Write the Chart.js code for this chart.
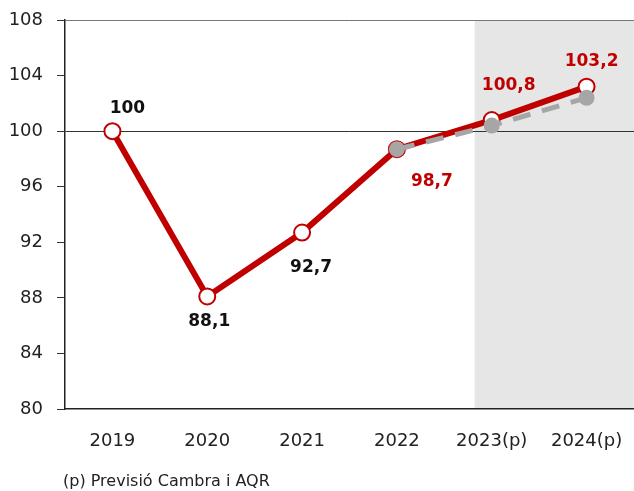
<!DOCTYPE html>
<html>
<head>
<meta charset="utf-8">
<script src="https://cdn.jsdelivr.net/npm/chart.js@4"></script>
<style>
  html, body { margin: 0; padding: 0; background: #fff; }
  #wrap { position: relative; width: 634px; height: 491px; }
  #note { position: absolute; left: 63px; top: 471px; font: 16px "DejaVu Sans", sans-serif; color: #222; }
</style>
</head>
<body>
<div id="wrap">
  <canvas id="chart" width="634" height="491"></canvas>
  <div id="note">(p) Previsió Cambra i AQR</div>
</div>
<script>
// Dades
const years = ['2019', '2020', '2021', '2022', '2023(p)', '2024(p)'];
const indexValues = [100, 88.1, 92.7, 98.7, 100.8, 103.2];
const previousForecast = [null, null, null, 98.7, 100.4, 102.4];
const yTicks = [80, 84, 88, 92, 96, 100, 104, 108];

// Estil de les etiquetes (dx, dy respecte al punt, color)
const labelStyle = [
    { dx: 15, dy: -23, color: '#111' },
    { dx: 2, dy: 25, color: '#111' },
    { dx: 9, dy: 35, color: '#111' },
    { dx: 35, dy: 32, color: '#c00000' },
    { dx: 17, dy: -34, color: '#c00000' },
    { dx: 5, dy: -25, color: '#c00000' }
];

const RED = '#c00000';
const GREY = '#a6a6a6';
const FONT = '"DejaVu Sans", sans-serif';

// zona de previsió ombrejada
const shadePlugin = {
    id: 'shade',
    beforeDraw(chart) {
        const { ctx, chartArea, scales } = chart;
        const x0 = scales.x.getPixelForValue(3) + (scales.x.getPixelForValue(4) - scales.x.getPixelForValue(3)) * 0.82;
        ctx.save();
        ctx.fillStyle = '#e6e6e6';
        ctx.fillRect(x0, chartArea.top, chartArea.right - x0, chartArea.bottom - chartArea.top);
        ctx.restore();
    }
};

// etiquetes de valors
const labelPlugin = {
    id: 'valueLabels',
    afterDatasetsDraw(chart) {
        const { ctx } = chart;
        const idx = chart.data.datasets.findIndex(d => d.label === 'Índex');
        const meta = chart.getDatasetMeta(idx);
        ctx.save();
        ctx.font = 'bold 17px ' + FONT;
        ctx.textAlign = 'center';
        ctx.textBaseline = 'middle';
        meta.data.forEach((pt, i) => {
            const s = labelStyle[i];
            ctx.fillStyle = s.color;
            ctx.fillText(indexValues[i].toString().replace('.', ','), pt.x + s.dx, pt.y + s.dy);
        });
        ctx.restore();
    }
};

const chart = new Chart(document.getElementById('chart').getContext('2d'), {
    type: 'line',
    data: {
        labels: years,
        datasets: [
            {
                label: 'Índex',
                data: indexValues,
                borderColor: RED,
                borderWidth: 6,
                pointRadius: 8,
                pointBorderWidth: 2,
                pointBackgroundColor: '#fff',
                pointBorderColor: RED,
                order: 1
            },
            {
                label: 'Previsió anterior',
                data: previousForecast,
                borderColor: GREY,
                borderWidth: 5,
                borderDash: [18, 12],
                pointRadius: 8,
                pointBorderWidth: 0,
                pointBackgroundColor: GREY,
                pointBorderColor: GREY,
                order: 0
            }
        ]
    },
    options: {
        responsive: false,
        animation: false,
        layout: { padding: 0 },
        plugins: {
            legend: { display: false },
            tooltip: { enabled: false }
        },
        scales: {
            x: {
                offset: true,
                grid: { display: false, drawTicks: false, offset: true },
                border: { color: '#222', width: 1.5 },
                ticks: { color: '#222', padding: 22, font: { family: FONT, size: 18 } },
                afterFit(scale) {
                    scale.height = 82;
                    scale.paddingLeft = 0;
                    scale.paddingRight = 0;
                }
            },
            y: {
                min: 80,
                max: 108,
                afterBuildTicks(scale) { scale.ticks = yTicks.map(v => ({ value: v })); },
                grid: {
                    color: ctx => ctx.tick.value === 100 ? '#333' : (ctx.tick.value === 108 ? '#777' : 'rgba(0,0,0,0)'),
                    tickColor: '#333',
                    tickLength: 8,
                    lineWidth: 1
                },
                border: { color: '#222', width: 1.5 },
                ticks: { color: '#222', padding: 14, font: { family: FONT, size: 18 } },
                afterFit(scale) {
                    scale.width = 65;
                    scale.paddingTop = 20;
                    scale.paddingBottom = 0;
                }
            }
        }
    },
    plugins: [shadePlugin, labelPlugin]
});

// els punts no han de reservar marge a la dreta
chart.data.datasets.forEach((d, i) => {
    chart.getDatasetMeta(i).controller.getMaxOverflow = () => 0;
});
chart.update();
</script>
</body>
</html>
